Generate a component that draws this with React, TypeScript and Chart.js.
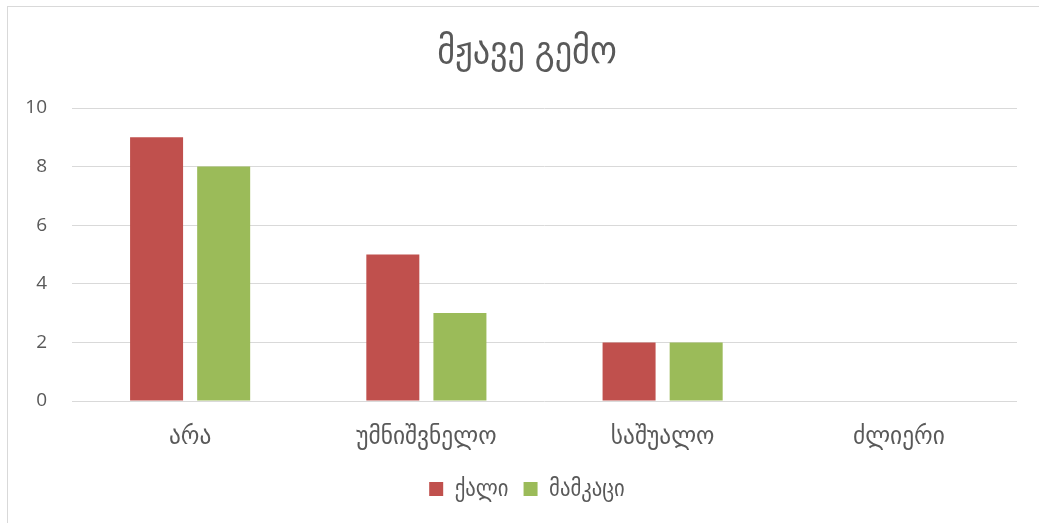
import React, { useEffect, useRef } from "react";
import { Chart, registerables } from "chart.js";

Chart.register(...registerables);

const title = "მჟავე გემო";
const categories = ["არა", "უმნიშვნელო", "საშუალო", "ძლიერი"];
const seriesNames = ["ქალი", "მამკაცი"];
const womenValues = [9, 5, 2, 0];
const menValues = [8, 3, 2, 0];
const yTicks = [0, 2, 4, 6, 8, 10];

const FONT = "'Open Sans', 'DejaVu Sans Condensed', 'DejaVu Sans', sans-serif";
const TEXT = "#595959";

export default function App() {
  const ref = useRef<HTMLCanvasElement | null>(null);

  useEffect(() => {
    if (!ref.current) return;
    const chart = new Chart(ref.current, {
      type: "bar",
      data: {
        labels: categories,
        datasets: [
          {
            label: seriesNames[0],
            data: womenValues,
            backgroundColor: "#C0504D",
            barPercentage: 0.79,
            categoryPercentage: 0.568,
          },
          {
            label: seriesNames[1],
            data: menValues,
            backgroundColor: "#9BBB59",
            barPercentage: 0.79,
            categoryPercentage: 0.568,
          },
        ],
      },
      options: {
        responsive: false,
        animation: false,
        layout: { padding: { left: 0, right: 0, top: 0, bottom: 12.5 } },
        plugins: {
          title: {
            display: true,
            text: title,
            color: TEXT,
            font: { family: FONT, size: 38, weight: "normal" },
            padding: { top: 21, bottom: 33.4 },
          },
          legend: {
            display: true,
            position: "bottom",
            labels: {
              color: TEXT,
              boxWidth: 14,
              boxHeight: 14,
              padding: 15,
              font: { family: FONT, size: 23 },
            },
          },
          tooltip: { enabled: false },
        },
        scales: {
          x: {
            grid: { display: false },
            border: { display: false },
            ticks: {
              color: TEXT,
              padding: 12,
              font: { family: FONT, size: 26 },
            },
            afterFit: (s: any) => {
              s.height = 61.5;
            },
          },
          y: {
            min: 0,
            max: 10,
            afterBuildTicks: (s: any) => {
              s.ticks = yTicks.map((v) => ({ value: v }));
            },
            grid: { color: "#d9d9d9", lineWidth: 1, drawTicks: false },
            border: { display: false },
            ticks: {
              color: TEXT,
              padding: 25,
              font: { family: FONT, size: 19 },
            },
            afterFit: (s: any) => {
              s.width = 64;
            },
          },
          spacer: {
            type: "linear",
            position: "right",
            display: true,
            grid: { display: false, drawTicks: false },
            border: { display: false },
            ticks: { display: false },
            afterFit: (s: any) => {
              s.width = 29;
            },
          },
        },
      },
    });
    return () => chart.destroy();
  }, []);

  return (
    <>
      <div
        style={{
          position: "fixed",
          left: 7,
          top: 6,
          right: 0,
          bottom: 0,
          borderTop: "1px solid #d9d9d9",
          borderLeft: "1px solid #d9d9d9",
          pointerEvents: "none",
        }}
      />
      <div
        style={{
          position: "fixed",
          left: 8,
          top: 8,
          width: 1031,
          height: 515,
          overflow: "hidden",
        }}
      >
        <canvas ref={ref} width={1038} height={515} style={{ display: "block" }} />
      </div>
    </>
  );
}
